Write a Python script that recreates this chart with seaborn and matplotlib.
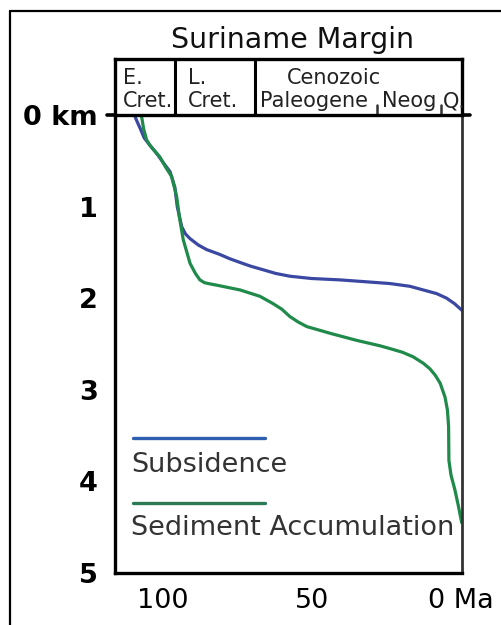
import matplotlib
matplotlib.use("Agg")
import matplotlib.pyplot as plt
from matplotlib.lines import Line2D
import seaborn as sns
import pandas as pd

# ---- data (age in Ma, depth in km) ----
subs_age = [109.5, 108.6, 107.5, 106.2, 104.3, 102.0, 99.8, 97.5, 95.9, 95.1, 93.6, 92.3, 90.8,
            88.0, 85.2, 81.0, 77.4, 74.0, 70.5, 67.3, 62.0, 57.3, 50.0, 40.5, 32.0, 23.7,
            17.0, 12.5, 8.0, 4.65, 2.0, -0.4]
subs_depth = [0.0, 0.07, 0.15, 0.25, 0.33, 0.42, 0.52, 0.62, 0.79, 1.00, 1.22, 1.30, 1.35,
              1.42, 1.47, 1.52, 1.57, 1.61, 1.65, 1.68, 1.73, 1.76, 1.785, 1.80, 1.82, 1.84,
              1.87, 1.91, 1.95, 2.00, 2.06, 2.13]

sed_age = [107.2, 107.0, 106.4, 105.4, 104.3, 103.0, 100.9, 99.0, 97.0, 95.3, 94.4, 93.1, 90.8,
           89.0, 87.5, 86.0, 84.7, 81.5, 78.5, 74.0, 67.3, 62.9, 60.0, 57.3, 54.5, 51.6, 43.0,
           34.9, 27.0, 23.7, 19.5, 15.9, 12.5, 10.3, 8.5, 6.8, 5.2, 4.4, 4.0, 3.9, 3.2, 1.9,
           0.7, -0.4]
sed_depth = [0.0, 0.03, 0.15, 0.27, 0.33, 0.38, 0.46, 0.57, 0.67, 0.89, 1.11, 1.36, 1.62,
             1.73, 1.80, 1.83, 1.84, 1.86, 1.88, 1.91, 1.98, 2.06, 2.12, 2.20, 2.26, 2.31, 2.39,
             2.46, 2.52, 2.55, 2.59, 2.64, 2.71, 2.77, 2.84, 2.93, 3.08, 3.22, 3.40, 3.77, 3.93,
             4.09, 4.27, 4.45]

series_names = ["Subsidence", "Sediment Accumulation"]
series_colors = ["#3a48a2", "#1f8a4a"]
legend_colors = ["#2f5db0", "#2b7a55"]

y_ticks = [0, 1, 2, 3, 4, 5]
y_labels = ["0 km", "1", "2", "3", "4", "5"]
x_ticks = [100, 50, 0]
x_labels = ["100", "50", "0 Ma"]

# header (time-scale) annotations
era_bounds = [95.9, 69.0]          # full-height dividers
epoch_bounds = [28.0, 6.6]         # short ticks
row1_labels = [("E.", 113.3, "left"), ("L.", 91.5, "left"), ("Cenozoic", 42.5, "center")]
row2_labels = [("Cret.", 113.3, "left"), ("Cret.", 91.5, "left"), ("Paleogene", 67.3, "left"),
               ("Neog", 26.4, "left"), ("Q.", 5.9, "left")]

df = pd.concat([
    pd.DataFrame({"age": subs_age, "depth": subs_depth, "series": series_names[0]}),
    pd.DataFrame({"age": sed_age, "depth": sed_depth, "series": series_names[1]}),
], ignore_index=True)

sns.set_style("white")
plt.rcParams["font.family"] = ["DejaVu Sans"]

W, H = 501, 625
fig = plt.figure(figsize=(W / 100, H / 100), dpi=100)

L, R = 115, 462
T, B = 115, 573
ax = fig.add_axes([L / W, 1 - B / H, (R - L) / W, (B - T) / H])

sns.lineplot(data=df, x="age", y="depth", hue="series", palette=series_colors,
             hue_order=series_names, estimator=None, sort=False, linewidth=2.3,
             legend=False, ax=ax)
for ln in ax.get_lines():
    ln.set_solid_joinstyle("round")
    ln.set_solid_capstyle("round")

XMIN, XMAX = 116.0, -0.5
ax.set_xlim(XMIN, XMAX)
ax.set_ylim(5, 0)
ax.set_xlabel("")
ax.set_ylabel("")
ax.set_yticks(y_ticks)
ax.set_yticklabels(y_labels, fontsize=19.5, fontweight="bold")
ax.set_xticks(x_ticks)
ax.set_xticklabels(x_labels, fontsize=19.5)
ax.tick_params(axis="y", direction="out", length=7.5, width=2.2, pad=5, colors="black")
ax.tick_params(axis="x", direction="out", length=6, width=2.2, pad=5, colors="black")
for s in ["left", "bottom"]:
    ax.spines[s].set_visible(True)
    ax.spines[s].set_linewidth(2.4)
    ax.spines[s].set_color("black")
ax.spines["right"].set_visible(True)
ax.spines["right"].set_linewidth(2.0)
ax.spines["right"].set_color("#333333")
ax.spines["top"].set_visible(False)

# thick 0 km line extending past both sides
ax.add_line(Line2D([-8 / (R - L), 1 + 8 / (R - L)], [1, 1], transform=ax.transAxes,
                   color="black", lw=2.6, clip_on=False))

# legend drawn as in the original (line above label)
ax.add_line(Line2D([0.052, 0.432], [0.295, 0.295], transform=ax.transAxes,
                   color=legend_colors[0], lw=2.4))
ax.text(0.046, 0.236, series_names[0], transform=ax.transAxes, fontsize=19.5,
        color="#333333", va="center", ha="left")
ax.add_line(Line2D([0.052, 0.432], [0.153, 0.153], transform=ax.transAxes,
                   color=legend_colors[1], lw=2.4))
ax.text(0.046, 0.098, series_names[1], transform=ax.transAxes, fontsize=19.5,
        color="#333333", va="center", ha="left")

# header axes (geologic time scale)
HT = 59
hax = fig.add_axes([L / W, 1 - T / H, (R - L) / W, (T - HT) / H])
hax.set_xlim(XMIN, XMAX)
hax.set_ylim(0, 1)
hax.set_xticks([])
hax.set_yticks([])
for s in hax.spines.values():
    s.set_visible(True)
    s.set_linewidth(2.4)
    s.set_color("black")
for b in era_bounds:
    hax.plot([b, b], [0, 1], color="black", lw=2.2)
for b in epoch_bounds:
    hax.plot([b, b], [0, 0.18], color="#333333", lw=1.8)
for txt, x, ha in row1_labels:
    hax.text(x, 0.66, txt, fontsize=15, ha=ha, va="center", color="#222222")
for txt, x, ha in row2_labels:
    hax.text(x, 0.25, txt, fontsize=15, ha=ha, va="center", color="#222222")

# title
fig.text(292.5 / W, 1 - 48 / H, "Suriname Margin", fontsize=20.5, ha="center",
         va="baseline", color="#111111")

# page border (top and left)
fig.add_artist(Line2D([10 / W, 1.0], [1 - 11 / H, 1 - 11 / H], transform=fig.transFigure,
                      color="black", lw=1.6))
fig.add_artist(Line2D([10 / W, 10 / W], [0, 1 - 11 / H], transform=fig.transFigure,
                      color="black", lw=1.6))

fig.savefig("out.png", dpi=100, facecolor="white")
